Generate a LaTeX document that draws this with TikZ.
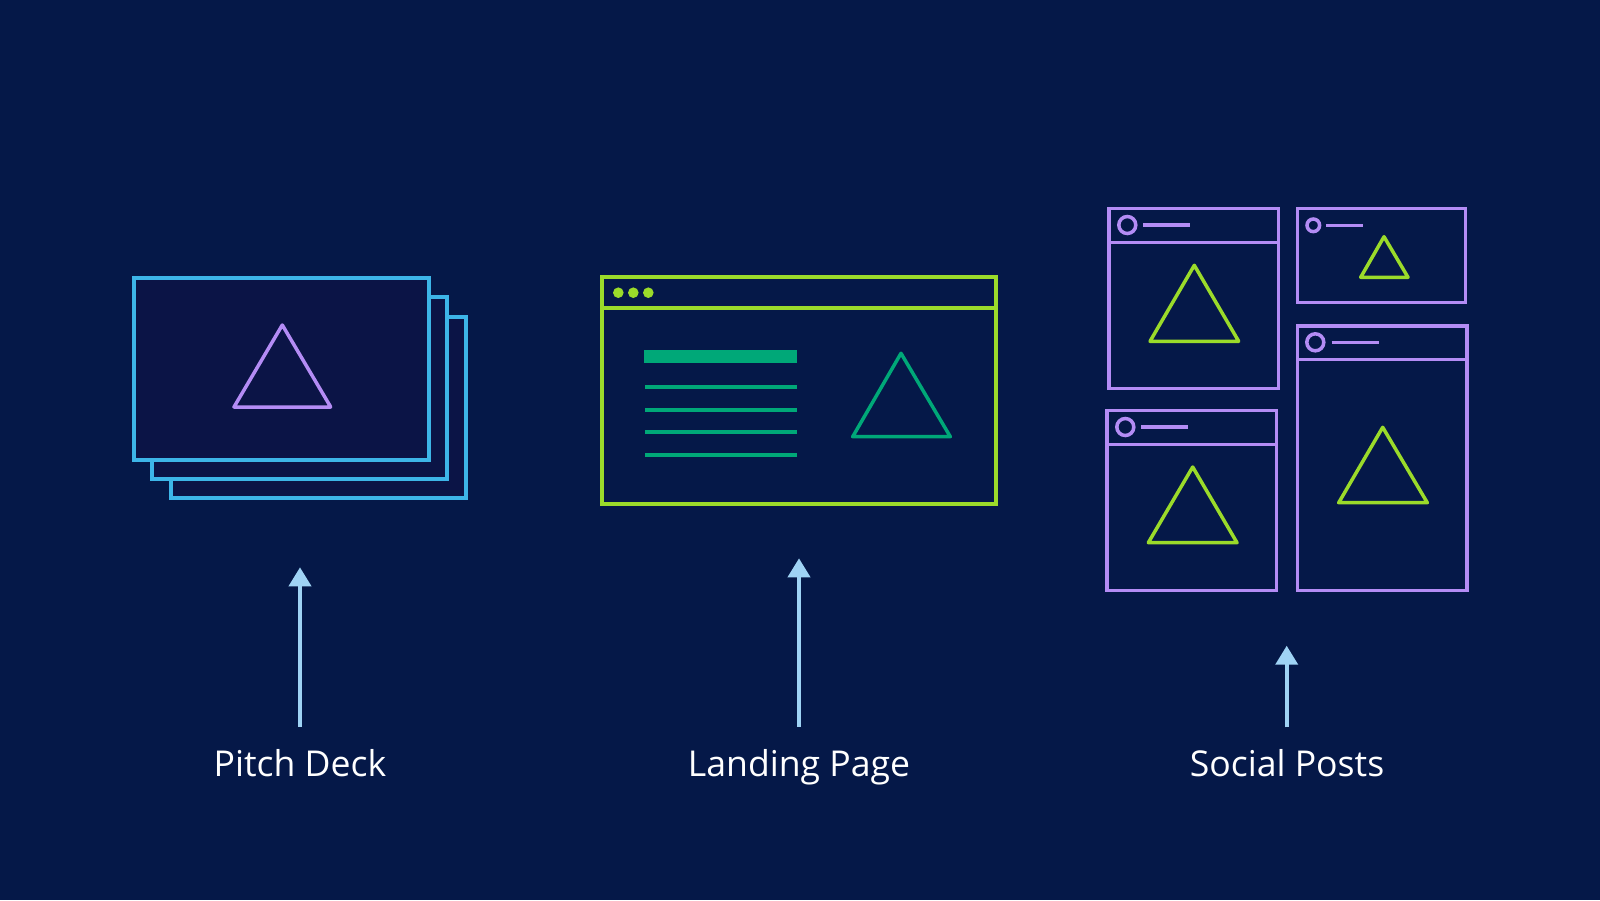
\documentclass[tikz,border=0pt]{standalone}
\usepackage{fontspec}
\setmainfont{Open Sans}
\usetikzlibrary{arrows.meta}
\definecolor{bg}{HTML}{051848}
\definecolor{cardfill}{HTML}{0B1446}
\definecolor{deckblue}{HTML}{3DB5E8}
\definecolor{lime}{HTML}{9BDB2A}
\definecolor{teal}{HTML}{00A878}
\definecolor{lilac}{HTML}{B48CF5}
\definecolor{arrowblue}{HTML}{9FD3F5}
\tikzset{
  deckcard/.style={draw=deckblue, line width=4pt, fill=cardfill},
  browser/.style={draw=lime, line width=4pt},
  postbox/.style={draw=lilac, line width=3.5pt},
  tri/.style={line width=3.5pt, line join=round, line cap=round},
  upar/.style={draw=arrowblue, line width=4pt, -{Triangle[width=22pt,length=19pt]}},
  lbl/.style={text=white, font=\fontsize{35.6}{42}\selectfont, anchor=base},
}
\begin{document}
\begin{tikzpicture}[x=1pt,y=-1pt]
\fill[bg] (0,0) rectangle (1600,900);
\useasboundingbox (0,0) rectangle (1600,900);

% Pitch deck
\draw[deckcard] (171.3,317) rectangle (465.7,498.3);
\draw[deckcard] (152.3,296.7) rectangle (447,478.7);
\draw[deckcard] (134,277.7) rectangle (428.7,459.7);
\draw[tri, draw=lilac] (282.3,325) -- (330.7,407) -- (234,407) -- cycle;

% Landing page
\draw[browser] (602.3,277.3) rectangle (995.7,504.3);
\draw[browser] (602.3,307.7) -- (995.7,307.7);
\fill[lime] (618.3,292.7) circle (5.3) (633.3,292.7) circle (5.3) (648.3,292.7) circle (5.3);
\fill[teal] (644,350) rectangle (797,362.7);
\foreach \yy in {386.7,409.7,431.7,454.7}
  \draw[teal, line width=4pt] (645,\yy) -- (797,\yy);
\draw[tri, draw=teal] (901,353.3) -- (950.3,436.7) -- (852.7,436.7) -- cycle;

% Social posts
% A
\draw[postbox] (1109,208.3) rectangle (1278.7,388.7);
\draw[postbox] (1109,242.7) -- (1278.7,242.7);
\draw[postbox] (1127.3,225) circle (8.5);
\draw[postbox] (1143.3,225) -- (1190,225);
\draw[tri, draw=lime] (1194.3,265.3) -- (1238.7,341.3) -- (1150,341.3) -- cycle;
% B
\draw[postbox] (1297.3,208.3) rectangle (1465.3,302.3);
\draw[postbox] (1313.3,225.3) circle (6.3);
\draw[postbox] (1326,225.3) -- (1363,225.3);
\draw[tri, draw=lime] (1384,236.7) -- (1408,277.3) -- (1360.7,277.3) -- cycle;
% C
\draw[postbox] (1107,410.7) rectangle (1276.7,590.7);
\draw[postbox] (1107,444.7) -- (1276.7,444.7);
\draw[postbox] (1125.3,427) circle (8.5);
\draw[postbox] (1141.3,427) -- (1188.3,427);
\draw[tri, draw=lime] (1192.7,467) -- (1237,542.7) -- (1148.3,542.7) -- cycle;
% D
\draw[postbox] (1297.3,326) rectangle (1467,590.7);
\draw[postbox] (1297.3,359.7) -- (1467,359.7);
\draw[postbox] (1315.3,342.3) circle (8.5);
\draw[postbox] (1331.7,342.3) -- (1378.7,342.3);
\draw[tri, draw=lime] (1382.7,427.3) -- (1427.3,502.7) -- (1338.7,502.7) -- cycle;

% Labels and arrows
\node[lbl] (pd) at (300,776.7) {Pitch Deck};
\node[lbl] (lp) at (799,776.7) {Landing Page};
\node[lbl] (sp) at (1287,776.7) {Social Posts};
\coordinate (pdfoot) at (300,726.7);
\coordinate (pdtip) at (300,567.3);
\coordinate (lpfoot) at (799,726.7);
\coordinate (lptip) at (799,558.3);
\coordinate (spfoot) at (1286.7,727.3);
\coordinate (sptip) at (1286.7,645.7);
\draw[upar] (pdfoot) -- (pdtip);
\draw[upar] (lpfoot) -- (lptip);
\draw[upar] (spfoot) -- (sptip);
\end{tikzpicture}
\end{document}
